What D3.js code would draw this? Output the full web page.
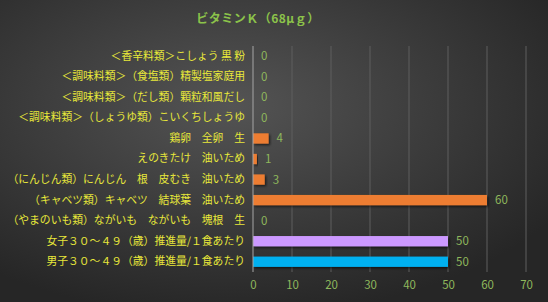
<!DOCTYPE html>
<html><head><meta charset="utf-8">
<script src="https://cdn.jsdelivr.net/npm/d3@7"></script>
<style>html,body{margin:0;padding:0;background:#333;}svg{display:block;}</style>
</head><body>
<script>
const categories = [
  "＜香辛料類＞こしょう 黒 粉",
  "＜調味料類＞（食塩類）精製塩家庭用",
  "＜調味料類＞（だし類）顆粒和風だし",
  "＜調味料類＞（しょうゆ類）こいくちしょうゆ",
  "鶏卵　全卵　生",
  "えのきたけ　油いため",
  "（にんじん類）にんじん　根　皮むき　油いため",
  "（キャベツ類）キャベツ　結球葉　油いため",
  "（やまのいも類）ながいも　ながいも　塊根　生",
  "女子３０～４９（歳）推進量/１食あたり",
  "男子３０～４９（歳）推進量/１食あたり"
];
const values = [0, 0, 0, 0, 4, 1, 3, 60, 0, 50, 50];
const barColors = ["#ed7d31","#ed7d31","#ed7d31","#ed7d31","#ed7d31","#ed7d31","#ed7d31","#ed7d31","#ed7d31","#cc99ff","#00b0f0"];
const xTicks = [0, 10, 20, 30, 40, 50, 60, 70];
const title = "ビタミンＫ（68μｇ）";

const W = 548, H = 302;
const m = {left: 253, right: 22, top: 46, bottom: 30};
const svg = d3.select("body").append("svg").attr("width", W).attr("height", H);
const defs = svg.append("defs");
const rg = defs.append("radialGradient").attr("id","bg").attr("cx","42%").attr("cy","35%").attr("r","70%");
rg.append("stop").attr("offset","0%").attr("stop-color","#545454");
rg.append("stop").attr("offset","100%").attr("stop-color","#262626");
const f = defs.append("filter").attr("id","sh").attr("x","-10%").attr("y","-30%").attr("width","130%").attr("height","180%");
f.append("feDropShadow").attr("dx",1.5).attr("dy",1.5).attr("stdDeviation",1).attr("flood-color","#000").attr("flood-opacity",0.6);
svg.append("rect").attr("width",W).attr("height",H).attr("fill","url(#bg)");

const x = d3.scaleLinear().domain([0,70]).range([m.left, W - m.right]);
const y = d3.scaleBand().domain(categories).range([m.top, H - m.bottom]).paddingInner(0.5).paddingOuter(0.25);

const g = svg.append("g");
g.selectAll("line.grid").data(xTicks.slice(1)).join("line")
  .attr("x1", d=>x(d)).attr("x2", d=>x(d)).attr("y1", m.top).attr("y2", H - m.bottom)
  .attr("stroke","#5e5e5e").attr("stroke-width",1);

const font = "'Noto Sans CJK JP','Noto Sans',sans-serif";

g.selectAll("rect.bar").data(values).join("rect")
  .attr("x", x(0)).attr("y", (d,i)=>y(categories[i]))
  .attr("width", d=>x(d)-x(0)).attr("height", y.bandwidth())
  .attr("fill", (d,i)=>barColors[i]).attr("filter","url(#sh)");

g.append("line").attr("x1", x(0)).attr("x2", x(0)).attr("y1", m.top).attr("y2", H - m.bottom)
  .attr("stroke","#a6a6a6").attr("stroke-width",1);

g.selectAll("text.val").data(values).join("text")
  .attr("x", d=>x(d)+8).attr("y", (d,i)=>y(categories[i]) + y.bandwidth()/2)
  .attr("dy","0.35em").attr("font-family", font).attr("font-size", 11.5)
  .attr("fill","#8fb85c").text(d=>d);

const yAxis = svg.append("g").attr("transform", `translate(${x(0)-8},0)`)
  .call(d3.axisLeft(y).tickSize(0).tickPadding(0));
yAxis.select(".domain").remove();
yAxis.selectAll("text").attr("font-family", font).attr("font-size", 10.8).attr("fill","#e8e83a");

const xAxis = svg.append("g").attr("transform", `translate(0,${H - m.bottom})`)
  .call(d3.axisBottom(x).tickValues(xTicks).tickSize(0).tickPadding(9));
xAxis.select(".domain").remove();
xAxis.selectAll("text").attr("font-family", font).attr("font-size", 11.5).attr("fill","#8fb85c");

svg.append("text").attr("x", 258).attr("y", 23).attr("text-anchor","middle")
  .attr("font-family", font).attr("font-size", 12).attr("font-weight","bold")
  .attr("letter-spacing", 0.5)
  .attr("fill","#8cc34a").text(title);
</script>
</body></html>
